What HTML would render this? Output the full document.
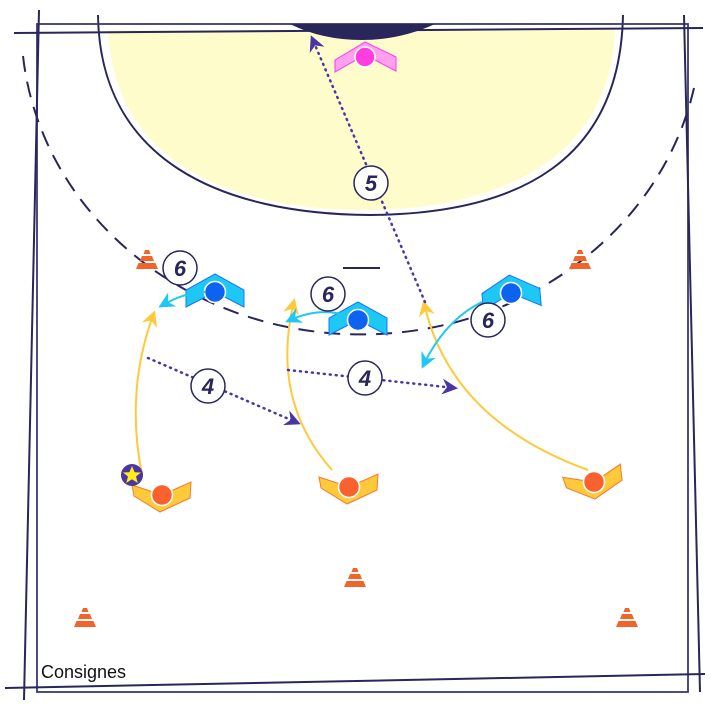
<!DOCTYPE html>
<html><head><meta charset="utf-8"><style>html,body{margin:0;padding:0;background:#fff}svg{display:block}</style></head>
<body>
<svg width="720" height="720" viewBox="0 0 720 720" xmlns="http://www.w3.org/2000/svg">
<defs>
<marker id="ay" markerWidth="16" markerHeight="16" refX="13" refY="8" orient="auto" markerUnits="userSpaceOnUse"><path d="M0,0 L16,8 L0,16 L5,8 Z" fill="#ffc93c"/></marker>
<marker id="ac" markerWidth="16" markerHeight="16" refX="13" refY="8" orient="auto" markerUnits="userSpaceOnUse"><path d="M0,0 L16,8 L0,16 L5,8 Z" fill="#1ec8f5"/></marker>
<marker id="ap" markerWidth="16" markerHeight="16" refX="13" refY="8" orient="auto" markerUnits="userSpaceOnUse"><path d="M0,0 L16,8 L0,16 L5,8 Z" fill="#4a35a5"/></marker>
<g id="cone"><path d="M-2,-10 L2,-10 L3.5,-6 L-3.5,-6 Z M-5,-4 L5,-4 L7,1 L-7,1 Z M-8.5,3 L8.5,3 L11,9 L-11,9 Z" fill="#f2652a"/></g>
<g id="def"><path d="M-29,15 L-29,-2 L0,-18 L29,-2 L29,15 L0,0 Z" fill="#1ec8f5" stroke="#1a73ff" stroke-width="1"/><circle r="10.5" fill="#0d63f0" stroke="#fff" stroke-width="1.5"/></g>
<g id="att"><path d="M-30,-10 L-28,1 L-2,17 L28,3 L29,-13 L0,0 Z" fill="#ffc93c" stroke="#f47a2a" stroke-width="1"/><circle r="10.5" fill="#f9612e" stroke="#fff" stroke-width="1.5"/></g>
</defs>
<path d="M108,30 C115,180 260,210 365,210 C480,210 610,170 615,30 Z" fill="#fffccc"/>
<path d="M98,15 C100,160 220,214 370,215 C520,214 620,160 623,15" fill="none" stroke="#28265a" stroke-width="2"/>
<rect x="37" y="24" width="651" height="668" fill="none" stroke="#3a3870" stroke-width="1.8"/>
<line x1="14" y1="33" x2="703" y2="28" stroke="#28265a" stroke-width="2"/>
<line x1="39" y1="10" x2="24" y2="700" stroke="#28265a" stroke-width="2"/>
<line x1="684" y1="15" x2="700" y2="692" stroke="#28265a" stroke-width="2"/>
<line x1="5" y1="688" x2="705" y2="674" stroke="#28265a" stroke-width="2"/>
<path d="M290,24 L435,24 Q400,40 362,40 Q322,40 290,24 Z" fill="#28265a"/>
<path d="M23,56 A340,310 0 0 0 694,88" fill="none" stroke="#28265a" stroke-width="2" stroke-dasharray="16,10"/>
<line x1="343" y1="268" x2="380" y2="268" stroke="#28265a" stroke-width="2"/>
<use href="#cone" x="147" y="260"/>
<use href="#cone" x="580" y="260"/>
<use href="#cone" x="355" y="578"/>
<use href="#cone" x="85" y="618"/>
<use href="#cone" x="627" y="618"/>
<g transform="translate(365,57)"><path d="M-30,15 L-30,3 L0,-15 L31,0 L31,14 L0,-2 Z" fill="#ff9ff0" stroke="#ff3de0" stroke-width="1"/><circle r="10" fill="#ff3de0" stroke="#fff" stroke-width="1.5"/></g>
<path d="M142,475 Q125,390 154,313" fill="none" stroke="#ffc93c" stroke-width="2" marker-end="url(#ay)"/>
<path d="M332,470 Q270,400 294,301" fill="none" stroke="#ffc93c" stroke-width="2" marker-end="url(#ay)"/>
<path d="M588,470 Q450,420 424,303" fill="none" stroke="#ffc93c" stroke-width="2" marker-end="url(#ay)"/>
<path d="M148,358 L298,423" fill="none" stroke="#4a35a5" stroke-width="2.5" stroke-dasharray="1,5" stroke-linecap="round" marker-end="url(#ap)"/>
<path d="M288,370 L455,388" fill="none" stroke="#4a35a5" stroke-width="2.5" stroke-dasharray="1,5" stroke-linecap="round" marker-end="url(#ap)"/>
<path d="M425,302 L312,38" fill="none" stroke="#4a35a5" stroke-width="2.5" stroke-dasharray="1,5" stroke-linecap="round" marker-end="url(#ap)"/>
<use href="#def" x="215" y="292"/>
<use href="#def" x="358" y="320"/>
<g transform="translate(511,293) rotate(-5)"><use href="#def"/></g>
<path d="M205,292 Q185,292 161,306" fill="none" stroke="#1ec8f5" stroke-width="2" marker-end="url(#ac)"/>
<path d="M342,314 Q315,308 288,321" fill="none" stroke="#1ec8f5" stroke-width="2" marker-end="url(#ac)"/>
<path d="M482,302 Q445,320 423,366" fill="none" stroke="#1ec8f5" stroke-width="2" marker-end="url(#ac)"/>
<use href="#att" x="162" y="495"/>
<use href="#att" x="349" y="487"/>
<g transform="translate(594,482) rotate(-10)"><use href="#att"/></g>
<circle cx="132" cy="475" r="11" fill="#4a35a5"/>
<path d="M132,466 L134.6,472.2 L141,472.5 L136,476.5 L137.8,483 L132,479.3 L126.2,483 L128,476.5 L123,472.5 L129.4,472.2 Z" fill="#ffec1a"/>
<g font-family="Liberation Sans, sans-serif" font-style="italic" font-weight="bold" font-size="22" fill="#28265a" text-anchor="middle">
<g><circle cx="180" cy="268" r="17" fill="#fff" stroke="#28265a" stroke-width="1.5"/><text x="180" y="276">6</text></g>
<g><circle cx="328" cy="294" r="17" fill="#fff" stroke="#28265a" stroke-width="1.5"/><text x="328" y="302">6</text></g>
<g><circle cx="488" cy="320" r="17" fill="#fff" stroke="#28265a" stroke-width="1.5"/><text x="488" y="328">6</text></g>
<g><circle cx="208" cy="386" r="17" fill="#fff" stroke="#28265a" stroke-width="1.5"/><text x="208" y="394">4</text></g>
<g><circle cx="365" cy="378" r="17" fill="#fff" stroke="#28265a" stroke-width="1.5"/><text x="365" y="386">4</text></g>
<g><circle cx="371" cy="183" r="17" fill="#fff" stroke="#28265a" stroke-width="1.5"/><text x="371" y="191">5</text></g>
</g>
<text x="41" y="678" font-family="Liberation Sans, sans-serif" font-size="18" fill="#111">Consignes</text>
</svg>
</body></html>
